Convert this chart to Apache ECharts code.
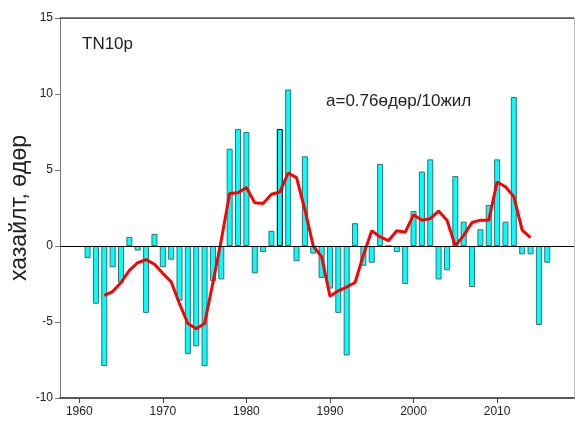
<!DOCTYPE html>
<html lang="mn">
<head>
  <meta charset="UTF-8">
  <title>TN10p</title>
  <style>
    body, html { margin: 0; padding: 0; background: #fff; }
    #main { width: 575px; height: 425px; }
  </style>
</head>
<body>
  <div id="main"></div>
  <script src="https://cdn.jsdelivr.net/npm/echarts@6/dist/echarts.min.js"></script>
  <script>
    // years and anomalies (days)
    var years = [];
    for (var y = 1961; y <= 2016; y++) years.push(y);
    var anomaly = [
      -0.8, -3.8, -7.9, -1.4, -2.4, 0.6, -0.3, -4.4, 0.8, -1.4,
      -0.9, -3.6, -7.1, -6.6, -7.9, -2.3, -2.2, 6.4, 7.7, 7.5,
      -1.8, -0.4, 1.0, 7.7, 10.3, -1.0, 5.9, -0.5, -2.1, -2.8,
      -4.4, -7.2, 1.5, -1.3, -1.1, 5.4, 0.0, -0.4, -2.5, 2.3,
      4.9, 5.7, -2.2, -1.6, 4.6, 1.6, -2.7, 1.1, 2.7, 5.7,
      1.6, 9.8, -0.55, -0.55, -5.2, -1.1
    ];
    // smoothed curve 1963..2014
    var smoothYears = [];
    for (var s = 1963; s <= 2014; s++) smoothYears.push(s);
    var smooth = [
      -3.25, -3.0, -2.4, -1.6, -1.1, -0.9, -1.2, -1.8, -2.35, -3.8,
      -5.1, -5.45, -5.1, -2.4, 0.4, 3.45, 3.5, 3.85, 2.85, 2.8,
      3.4, 3.55, 4.8, 4.5, 2.4, 0.0, -0.7, -3.3, -2.95, -2.7,
      -2.4, -0.6, 1.0, 0.6, 0.35, 1.0, 0.9, 2.05, 1.7, 1.8,
      2.3, 1.7, 0.0, 0.7, 1.55, 1.7, 1.7, 4.2, 3.9, 3.25,
      1.05, 0.55
    ];
    var xTicks = [1960, 1970, 1980, 1990, 2000, 2010];

    var barData = years.map(function (yr, i) {
      var d = { value: [yr, anomaly[i]] };
      if (yr === 1984) d.itemStyle = { borderColor: '#000' };
      return d;
    });
    var lineData = smoothYears.map(function (yr, i) { return [yr, smooth[i]]; });

    var chart = echarts.init(document.getElementById('main'));
    var option = {
      animation: false,
      grid: { left: 59, right: 1, top: 18, bottom: 27 },
      graphic: [
        { type: 'text', left: 82, top: 36, style: { text: 'TN10p', fontSize: 17, fill: '#222', fontFamily: 'Arial, Liberation Sans' } },
        { type: 'text', left: 326, top: 93, style: { text: 'a=0.76өдөр/10жил', fontSize: 17, fill: '#222', fontFamily: 'Arial, Liberation Sans' } }
      ],
      xAxis: {
        type: 'value',
        min: 1957.7,
        max: 2019.2,
        axisLine: { show: true, onZero: false, lineStyle: { color: '#222', width: 1.5 } },
        axisTick: { show: true, customValues: xTicks, length: 5, lineStyle: { color: '#444' } },
        axisLabel: {
          customValues: xTicks, color: '#222', fontSize: 12, margin: 8, fontFamily: 'Arial, Liberation Sans',
          formatter: function (v) { return String(v); }
        },
        splitLine: { show: false }
      },
      yAxis: [{
        type: 'value',
        min: -10,
        max: 15,
        interval: 5,
        name: 'хазайлт, өдөр',
        nameLocation: 'middle',
        nameGap: 29,
        nameMoveOverlap: false,
        nameTextStyle: { fontSize: 23, color: '#222', fontFamily: 'Arial, Liberation Sans' },
        axisLine: { show: true, lineStyle: { color: '#777' } },
        axisTick: { show: true, length: 5, lineStyle: { color: '#777' } },
        axisLabel: { color: '#222', fontSize: 12, margin: 7, fontFamily: 'Arial, Liberation Sans' },
        splitLine: { show: false }
      }, {
        type: 'value',
        min: -10,
        max: 15,
        position: 'right',
        axisLine: { show: true, lineStyle: { color: '#bbb' } },
        axisTick: { show: false },
        axisLabel: { show: false },
        splitLine: { show: false }
      }],
      series: [
        {
          type: 'bar',
          data: barData,
          barWidth: 6,
          itemStyle: { color: '#00FFFF', borderColor: '#3a7070', borderWidth: 1 },
          markLine: {
            silent: true,
            symbol: 'none',
            label: { show: false },
            lineStyle: { color: '#000', width: 1, type: 'solid' },
            data: [{ yAxis: 0 }]
          },
          z: 2
        },
        {
          type: 'line',
          data: lineData,
          showSymbol: false,
          lineStyle: { color: '#FF0000', width: 3 },
          z: 3
        },
        {
          // top frame line
          type: 'line',
          data: [[1957.7, 15], [2019.2, 15]],
          showSymbol: false,
          lineStyle: { color: '#222', width: 1.5 },
          silent: true
        }
      ]
    };
    chart.setOption(option);
  </script>
</body>
</html>
